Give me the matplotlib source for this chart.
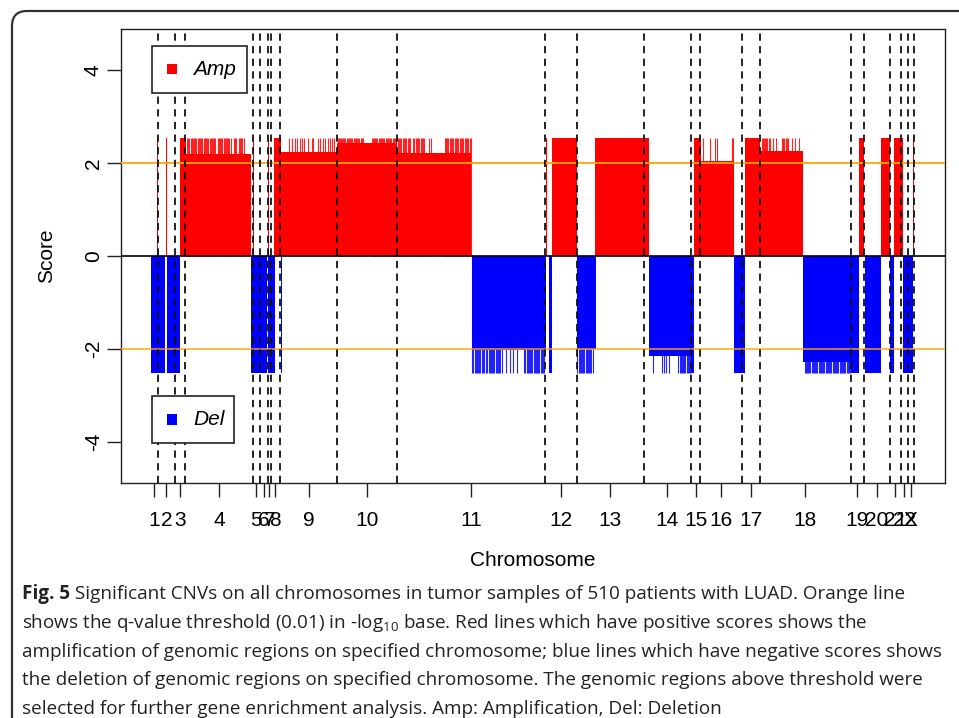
import matplotlib
matplotlib.use("Agg")
import matplotlib.pyplot as plt
from matplotlib.patches import Rectangle, FancyBboxPatch
import numpy as np

plt.rcParams['font.family'] = ['Liberation Sans', 'DejaVu Sans']
plt.rcParams['mathtext.fontset'] = 'custom'
plt.rcParams['mathtext.rm'] = 'Open Sans'
plt.rcParams['mathtext.bf'] = 'Open Sans:bold'
plt.rcParams['mathtext.it'] = 'Open Sans:italic'

# ---------------- data (x in marker-index units) ----------------
chrom_labels = ['1', '2', '3', '4', '5', '6', '7', '8', '9', '10', '11', '12', '13',
                '14', '15', '16', '17', '18', '19', '20', '21', '22', 'X']
chrom_ends = [72, 245, 348, 1022, 1095, 1172, 1202, 1295, 1868, 2462, 3945, 4262, 4932,
              5405, 5495, 5912, 6095, 7002, 7135, 7392, 7502, 7572, 7632]

# amplification segments: start, end, score
amp_start = [68, 150, 292, 355, 1025, 1100, 1173, 1238, 1305, 1865, 2462, 3958, 4015, 4448,
             5435, 5500, 5948, 6095, 7088, 7302, 7435, 7623]
amp_end = [78, 160, 355, 1005, 1033, 1108, 1181, 1305, 1865, 2462, 3208, 3968, 4265, 4980,
           5500, 5835, 6095, 6522, 7135, 7395, 7522, 7635]
amp_score = [2.53, 2.53, 2.53, 2.19, 2.53, 2.53, 2.53, 2.53, 2.23, 2.42, 2.21, 2.53, 2.53, 2.53,
             2.53, 2.04, 2.53, 2.26, 2.53, 2.53, 2.53, 2.53]
# single markers reaching the maximum amplification score
amp_peak_score = 2.53
amp_peaks = [365, 375, 388, 400, 410, 423, 435, 445, 458, 470, 482, 495, 507, 518, 530, 542,
             555, 565, 578, 590, 600, 613, 625, 635, 648, 670, 682, 693, 705, 718, 730, 740,
             752, 763, 775, 788, 800, 830, 842, 855, 880, 893, 905, 918, 935,
             1385, 1412, 1445, 1462, 1495, 1512, 1538, 1578, 1612, 1628, 1672, 1695, 1728,
             1745, 1772, 1795, 1812, 1838,
             1870, 1880, 1892, 1903, 1915, 1925, 1937, 1948, 1960, 1972, 1983, 1995, 2007,
             2018, 2030, 2042, 2052, 2065, 2077, 2088, 2100, 2112, 2122,
             2210, 2222, 2233, 2245, 2257, 2268, 2280, 2292, 2303, 2315, 2327, 2338, 2350,
             2362, 2373, 2385, 2397, 2408, 2420, 2432, 2443, 2455,
             2470, 2482, 2495, 2507, 2520, 2533, 2545, 2558, 2570, 2583, 2595, 2625, 2637,
             2650, 2662, 2675, 2688, 2700, 2712, 2725, 2738, 2785, 2800, 2940, 2952, 2965,
             2977, 2990, 3003, 3015, 3028, 3040, 3053, 3065, 3078, 3090, 3103, 3115, 3128,
             3140, 3153, 3165, 3178, 3190, 3202,
             5522, 5595, 5648, 5662, 5812, 5828,
             6112, 6122, 6133, 6145, 6157, 6168, 6180, 6192, 6228, 6252, 6312, 6325, 6338,
             6350, 6362, 6378, 6412, 6445, 6485]

# deletion segments: start, end, score
del_start = [5, 162, 1002, 1098, 1172, 1300, 3212, 3982, 4262, 4982, 5405, 5838, 6522, 7002,
             7142, 7392, 7500, 7528]
del_end = [148, 295, 1090, 1165, 1245, 1310, 3952, 4015, 4452, 5405, 5435, 5948, 7002, 7088,
           7305, 7435, 7507, 7622]
del_score = [-2.52, -2.52, -2.52, -2.52, -2.52, -2.52, -2.02, -2.52, -2.0, -2.15, -2.52, -2.52,
             -2.27, -2.52, -2.52, -2.52, -2.52, -2.52]
del_peak_score = -2.52
del_peaks = [3218, 3228, 3240, 3252, 3263, 3275, 3287, 3298, 3310, 3322, 3333,
             3357, 3368, 3380, 3392, 3403, 3415, 3427, 3438, 3450, 3462, 3473, 3485, 3497, 3510,
             3555, 3595, 3628, 3668,
             3737, 3748, 3760, 3772, 3783, 3795, 3807, 3818, 3830, 3842, 3853, 3865, 3877,
             3888, 3900, 3912, 3923, 3935,
             4268, 4280, 4292, 4303, 4315, 4327, 4338, 4350, 4362, 4373, 4385, 4397, 4408, 4420,
             5028, 5115, 5135, 5155, 5180,
             5278, 5290, 5302, 5313, 5325, 5337, 5348, 5360, 5372, 5383, 5395,
             6540, 6552, 6563, 6575, 6587, 6598, 6610, 6622, 6633, 6645, 6657, 6668, 6680,
             6692, 6703, 6715, 6727, 6738, 6750, 6762, 6773, 6785, 6797, 6808, 6820, 6832,
             6843, 6855, 6867, 6878, 6890, 6902, 6913, 6925, 6937, 6948, 6960, 6972, 6983, 6995]

threshold = 2.0  # -log10(0.01)

caption_bold = "Fig. 5"
caption_lines = [
    " Significant CNVs on all chromosomes in tumor samples of 510 patients with LUAD. Orange line",
    r"shows the q-value threshold (0.01) in -log$_{10}$ base. Red lines which have positive scores shows the",
    "amplification of genomic regions on specified chromosome; blue lines which have negative scores shows",
    "the deletion of genomic regions on specified chromosome. The genomic regions above threshold were",
    "selected for further gene enrichment analysis. Amp: Amplification, Del: Deletion",
]

# ---------------- figure ----------------
W, H = 959, 718
fig = plt.figure(figsize=(W / 100, H / 100), dpi=100)


def fx(px):
    return px / W


def fy(py):
    return 1 - py / H


ax = fig.add_axes([fx(121), fy(483), fx(944.5) - fx(121), fy(29) - fy(483)])

RED = '#FF0000'
BLUE = '#0000FF'

a_s = np.array(amp_start); a_e = np.array(amp_end)
ax.bar(a_s, amp_score, width=a_e - a_s, align='edge', color=RED, linewidth=0, zorder=2)
ax.vlines(amp_peaks, 0, amp_peak_score, color=RED, lw=0.8, alpha=0.85, zorder=2)
d_s = np.array(del_start); d_e = np.array(del_end)
ax.bar(d_s, del_score, width=d_e - d_s, align='edge', color=BLUE, linewidth=0, zorder=2)
ax.vlines(del_peaks, 0, del_peak_score, color=BLUE, lw=0.8, alpha=0.85, zorder=2)

ax.axhline(threshold, color='#FFA500', lw=1.3, zorder=3)
ax.axhline(-threshold, color='#FFA500', lw=1.3, zorder=3, alpha=0.8)
ax.axhline(0, color='black', lw=1.2, zorder=4)
for e in chrom_ends:
    ax.axvline(e, color='#111111', lw=1.3, ls=(0, (4, 3)), zorder=5)

starts = [0] + chrom_ends[:-1]
mids = [(s + e) / 2 for s, e in zip(starts, chrom_ends)]
ax.set_xticks(mids)
ax.set_xticklabels(chrom_labels, fontsize=15)
ax.set_yticks([-4, -2, 0, 2, 4])
ax.set_yticklabels(['-4', '-2', '0', '2', '4'], fontsize=15, rotation=90, va='center')
ax.tick_params(axis='both', length=10, width=1.0, color='#222222')
ax.tick_params(axis='x', pad=10)
ax.tick_params(axis='y', pad=3)

ax.set_xlim(-295, 7940)
ax.set_ylim(-4.88, 4.88)
for sp in ax.spines.values():
    sp.set_linewidth(1.0)
    sp.set_color('#222222')

fig.text(fx(47), fy(256), 'Score', rotation=90, ha='center', va='center', fontsize=15)
fig.text(fx(533), fy(560), 'Chromosome', ha='center', va='center', fontsize=15)

# legends (R-style boxes)
def legend_box(x0, y0, x1, y1, color, label):
    fig.add_artist(Rectangle((fx(x0), fy(y1)), fx(x1) - fx(x0), fy(y0) - fy(y1),
                             transform=fig.transFigure, facecolor='white',
                             edgecolor='#222222', lw=1.2, zorder=10))
    cy = (y0 + y1) / 2
    fig.add_artist(Rectangle((fx(166.5), fy(cy + 5)), fx(10.5), 10.5 / H,
                             transform=fig.transFigure, facecolor=color,
                             edgecolor='none', zorder=11))
    fig.text(fx(193), fy(cy), label, ha='left', va='center', fontsize=15,
             style='italic', zorder=12)

legend_box(151.7, 45.7, 246.7, 93, RED, 'Amp')
legend_box(151.7, 396, 234.3, 443.3, BLUE, 'Del')

# outer rounded frame
frame = FancyBboxPatch((0.12, -1.0), 12.0, 8.07, boxstyle='round,pad=0,rounding_size=0.15',
                       transform=fig.dpi_scale_trans, facecolor='none',
                       edgecolor='#333333', lw=1.6, clip_on=False, zorder=0)
fig.add_artist(frame)

CAP_FS = 13.6
renderer = fig.canvas.get_renderer()
y0 = 594
bold_t = fig.text(fx(22), fy(y0), caption_bold, ha='left', va='center', fontsize=CAP_FS,
                  family='Open Sans', weight='bold', color='#222222')
bb = bold_t.get_window_extent(renderer=renderer)
for i, line in enumerate(caption_lines):
    x = bb.x1 / W if i == 0 else fx(22)
    fig.text(x, fy(y0 + 28.8 * i), line, ha='left', va='center', fontsize=CAP_FS,
             family='Open Sans', color='#222222')

fig.savefig('out.png', dpi=100)
